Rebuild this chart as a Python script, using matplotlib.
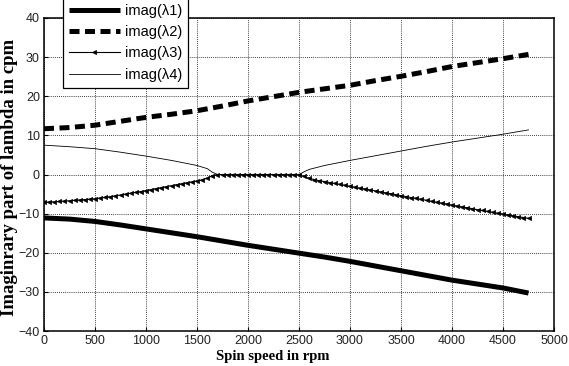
import numpy as np
import matplotlib
matplotlib.use("Agg")
import matplotlib.pyplot as plt

# ---- data ----
speed_coarse = [0, 250, 500, 750, 1000, 1250, 1500, 1750, 2000, 2250, 2500,
                2750, 3000, 3250, 3500, 3750, 4000, 4250, 4500, 4750]
imag_l1 = [-11.1, -11.4, -12.0, -12.9, -13.9, -14.9, -15.9, -17.0, -18.1, -19.1, -20.1,
           -21.1, -22.2, -23.4, -24.6, -25.8, -27.0, -28.0, -29.0, -30.3]
imag_l2 = [11.7, 12.0, 12.6, 13.6, 14.6, 15.4, 16.3, 17.5, 18.8, 19.9, 21.0,
           21.9, 22.8, 24.0, 25.1, 26.3, 27.6, 28.6, 29.6, 30.7]

speed_l3 = list(range(0, 4751, 50))
imag_l3 = [-7.1, -7.05, -7.0, -6.9, -6.8, -6.7, -6.6, -6.5, -6.4, -6.3,
           -6.2, -6.0, -5.85, -5.65, -5.45, -5.25, -5.0, -4.8, -4.55, -4.35,
           -4.1, -3.85, -3.6, -3.35, -3.1, -2.85, -2.6, -2.35, -2.1, -1.9,
           -1.65, -1.35, -0.95, -0.3, 0, 0, 0, 0, 0, 0,
           0, 0, 0, 0, 0, 0, 0, 0, 0, 0,
           0, -0.5, -1.0, -1.3, -1.6, -1.8, -2.05, -2.3, -2.5, -2.75,
           -3.0, -3.25, -3.5, -3.7, -3.95, -4.2, -4.45, -4.7, -4.9, -5.15,
           -5.4, -5.65, -5.9, -6.1, -6.35, -6.6, -6.85, -7.1, -7.3, -7.55,
           -7.8, -8.05, -8.3, -8.5, -8.75, -9.0, -9.2, -9.45, -9.65, -9.9,
           -10.1, -10.35, -10.55, -10.8, -11.0, -11.2]

speed_l4 = [0, 250, 500, 750, 1000, 1250, 1500, 1600, 1650, 1700, 2500,
            2550, 2600, 2750, 3000, 3250, 3500, 3750, 4000, 4250, 4500, 4750]
imag_l4 = [7.5, 7.1, 6.6, 5.7, 4.7, 3.6, 2.3, 1.5, 0.6, 0, 0,
           0.7, 1.3, 2.3, 3.6, 4.8, 6.0, 7.2, 8.3, 9.3, 10.3, 11.4]

labels = ["imag(λ1)", "imag(λ2)", "imag(λ3)", "imag(λ4)"]
x_ticks = [0, 500, 1000, 1500, 2000, 2500, 3000, 3500, 4000, 4500, 5000]
y_ticks = [-40, -30, -20, -10, 0, 10, 20, 30, 40]

# ---- figure ----
W, H = 569, 366
fig = plt.figure(figsize=(W / 100, H / 100), dpi=100)
ax = fig.add_axes([44 / W, 1 - 331 / H, 510 / W, 313 / H])

ax.plot(speed_coarse, imag_l1, color="black", lw=3.6, solid_capstyle="butt", label=labels[0])
ax.plot(speed_coarse, imag_l2, color="black", lw=3.6, dashes=(2.0, 1.1), label=labels[1])
ax.plot(speed_l3, imag_l3, color="black", lw=0.8, marker="<", markersize=3,
        markerfacecolor="black", markeredgewidth=0.5, label=labels[2])
ax.plot(speed_l4, imag_l4, color="black", lw=0.6, label=labels[3])

ax.set_xlim(0, 5000)
ax.set_ylim(-40, 40)
ax.set_xticks(x_ticks)
ax.set_yticks(y_ticks)
ax.grid(True, color="black", linestyle=(0, (1, 1.5)), linewidth=0.6)
for s in ax.spines.values():
    s.set_linewidth(1.1)
ax.tick_params(direction="in", length=3, width=0.8, labelsize=9, pad=3,
               colors="#222222")
ax.tick_params(color="black")
for lab in ax.get_xticklabels() + ax.get_yticklabels():
    lab.set_fontfamily("Liberation Sans")

ax.set_xlabel("Spin speed in rpm", fontfamily="Liberation Serif", fontweight="bold",
              fontsize=10.5, va="top")
ax.xaxis.set_label_coords((273 - 44) / 510, -(350 - 331) / 313)
ax.set_ylabel("Imaginrary part of lambda in cpm", fontfamily="Liberation Serif",
              fontweight="bold", fontsize=13.5, va="center")
ax.yaxis.set_label_coords((10 - 44) / 510, 0.49)

leg = ax.legend(loc="upper left", bbox_to_anchor=(63 / W, 1 + 2 / H),
                bbox_transform=fig.transFigure, borderaxespad=0,
                prop={"family": "Liberation Sans", "size": 10.5},
                handlelength=3.5, labelspacing=0.5, handletextpad=0.35,
                borderpad=0.4, fancybox=False, framealpha=1, edgecolor="black")
leg.get_frame().set_linewidth(0.9)

fig.savefig("out.png", dpi=100)
